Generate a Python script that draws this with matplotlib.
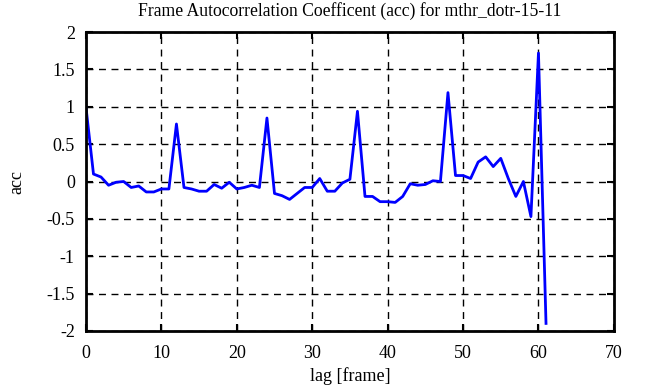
import numpy as np
import matplotlib
matplotlib.use("Agg")
from matplotlib import pyplot as plt

# autocorrelation values, lag 0..61
lag = np.arange(62)
acc = [1.0, 0.1, 0.06, -0.05, -0.01, 0.0, -0.08, -0.06, -0.14, -0.14,
       -0.1, -0.1, 0.77, -0.08, -0.1, -0.13, -0.13, -0.04, -0.09, -0.01,
       -0.1, -0.08, -0.05, -0.08, 0.85, -0.16, -0.19, -0.24, -0.16, -0.08,
       -0.08, 0.04, -0.13, -0.13, -0.02, 0.03, 0.94, -0.2, -0.2, -0.27,
       -0.27, -0.28, -0.2, -0.03, -0.05, -0.04, 0.01, 0.0, 1.19, 0.08,
       0.08, 0.04, 0.26, 0.33, 0.2, 0.31, 0.04, -0.2, 0.0, -0.47,
       1.72, -1.9]

xticks = [0, 10, 20, 30, 40, 50, 60, 70]
yticks = [-2, -1.5, -1, -0.5, 0, 0.5, 1, 1.5, 2]
ylabels = ['-2', '-1.5', '-1', '-0.5', '0', '0.5', '1', '1.5', '2']

plt.rcParams['font.family'] = ['Liberation Serif', 'DejaVu Serif']

fig = plt.figure(figsize=(6.51, 3.87), dpi=100)
ax = fig.add_axes([0.132, 0.145, 0.811, 0.772])

ax.plot(lag, acc, color='#0000ff', linewidth=2)

ax.set_xlim(0, 70)
ax.set_ylim(-2, 2)
ax.set_xticks(xticks)
ax.set_yticks(yticks)
ax.set_yticklabels(ylabels)
ax.grid(True, color='black', linestyle=(0, (5, 4)), linewidth=1)
ax.tick_params(direction='in', length=5, width=1.5, labelsize=13,
               top=True, right=True, pad=8)
ax.tick_params(axis='x', pad=10)
for s in ax.spines.values():
    s.set_linewidth(2)

ax.set_title('Frame Autocorrelation Coefficent (acc) for mthr_dotr-15-11',
             fontsize=12.7, pad=12)
ax.set_xlabel('lag [frame]', fontsize=13, labelpad=4)
ax.set_ylabel('acc', fontsize=13, labelpad=15)

fig.savefig('out.png', dpi=100)
